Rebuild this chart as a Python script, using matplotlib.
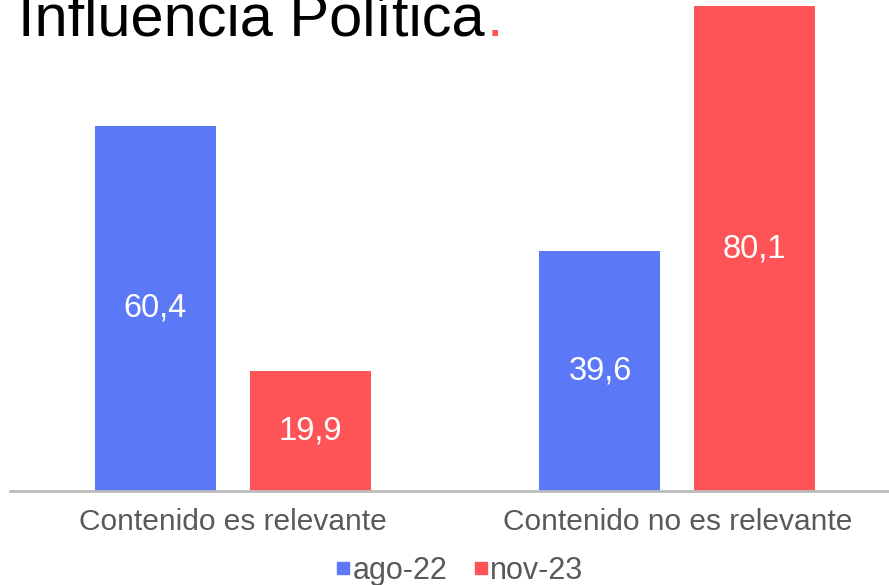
import matplotlib

matplotlib.use("Agg")
import matplotlib.pyplot as plt
from matplotlib.lines import Line2D
import numpy as np

plt.rcParams["font.family"] = ["Liberation Sans", "DejaVu Sans"]

categories = ["Contenido es relevante", "Contenido no es relevante"]
series_names = ["ago-22", "nov-23"]
ago_22 = [60.4, 39.6]
nov_23 = [19.9, 80.1]

BLUE = "#5B78F6"
RED = "#FE5457"
GREY_TEXT = "#595959"

fig = plt.figure(figsize=(8.89, 5.85), dpi=100)
ax = fig.add_axes([0.0118, 0.1607, 1.0, 0.8376])

x = np.arange(len(categories))
width = 0.272
offset = 0.174
bars_a = ax.bar(x - offset, ago_22, width, color=BLUE)
bars_b = ax.bar(x + offset, nov_23, width, color=RED)

for bars, vals in ((bars_a, ago_22), (bars_b, nov_23)):
    for b, v in zip(bars, vals):
        ax.text(b.get_x() + b.get_width() / 2, v / 2, f"{v:.1f}".replace(".", ","),
                ha="center", va="center", color="white", fontsize=23.5)

ax.set_xlim(-0.5, 1.5)
ax.set_ylim(0, 81)
ax.set_xticks(x)
ax.set_xticklabels(categories, fontsize=21.5, color=GREY_TEXT)
ax.tick_params(axis="x", length=0, pad=12)
ax.set_yticks([])
for side in ("top", "right", "left"):
    ax.spines[side].set_visible(False)
ax.spines["bottom"].set_color("#BBBBBB")
ax.spines["bottom"].set_linewidth(2)
ax.patch.set_alpha(0)

# title is cropped at the top edge, as in the source slide
title = fig.text(18 / 889, 1 - 36 / 585, "Influencia Política", fontsize=42.8,
                 va="baseline", ha="left", color="black")
ax.annotate(".", xy=(1, 0), xycoords=title, xytext=(1.5, 0), textcoords="offset points",
            ha="left", va="bottom", fontsize=42.8, color=RED, annotation_clip=False)

handles = [Line2D([], [], marker="s", linestyle="none", color=c, markersize=9)
           for c in (BLUE, RED)]
fig.legend(handles, series_names, loc="center", bbox_to_anchor=(0.5 + 15 / 889, 1 - 571 / 585),
           ncol=2, frameon=False, fontsize=22, labelcolor=GREY_TEXT,
           handlelength=0.5, handletextpad=0.05, columnspacing=0.85, borderpad=0)

fig.savefig("out.png", dpi=100)
